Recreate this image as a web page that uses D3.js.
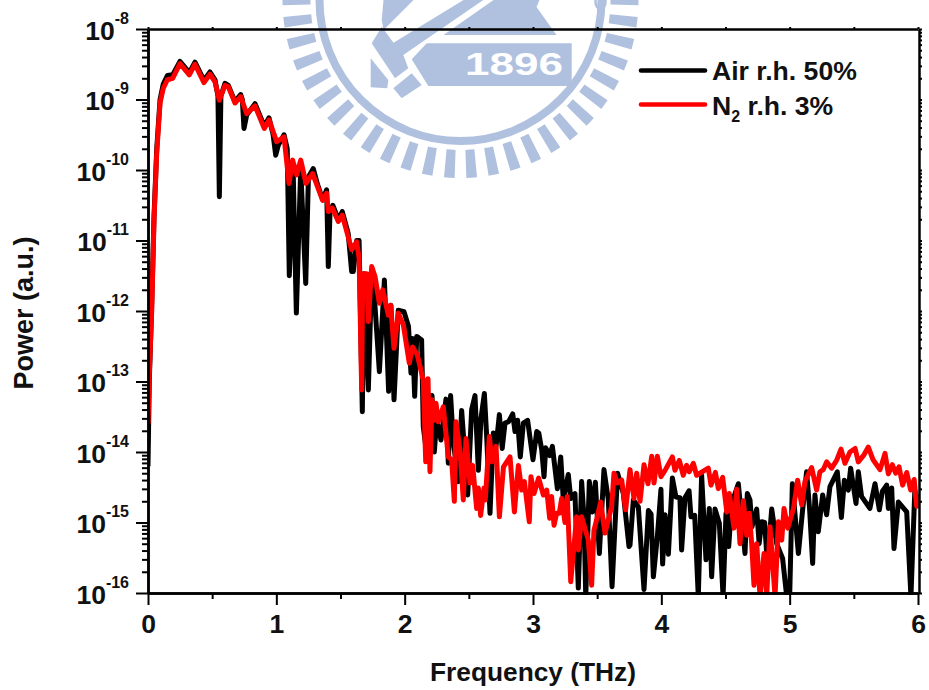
<!DOCTYPE html>
<html>
<head>
<meta charset="utf-8">
<script src="https://cdn.jsdelivr.net/npm/d3@7"></script>
<style>
  html, body { margin: 0; padding: 0; background: #fff; }
  svg { display: block; font-family: "Liberation Sans", Arial, sans-serif; font-weight: bold; fill: #111; }
</style>
</head>
<body>
<svg id="chart" width="929" height="690"></svg>
<script>
// frequency in THz, power as the exponent of ten
const airFreq = [0,.01,.029,.047,.068,.094,.119,.151,.192,.249,.322,.366,.436,.483,.522,.545,.556,.568,.6,.626,.678,.722,.735,.748,.769,.834,.906,.943,.975,.995,1.015,1.06,1.085,1.101,1.132,1.156,1.19,1.229,1.25,1.288,1.32,1.361,1.392,1.405,1.418,1.44,1.483,1.514,1.56,1.587,1.6,1.626,1.645,1.67,1.683,1.717,1.743,1.764,1.803,1.842,1.875,1.893,1.917,1.95,1.995,2.03,2.049,2.062,2.078,2.094,2.132,2.145,2.171,2.213,2.231,2.249,2.283,2.322,2.34,2.358,2.379,2.418,2.444,2.491,2.522,2.548,2.574,2.595,2.621,2.639,2.665,2.691,2.712,2.738,2.76,2.782,2.81,2.842,2.86,2.88,2.901,2.925,2.958,3.0,3.029,3.045,3.068,3.086,3.099,3.13,3.151,3.19,3.216,3.236,3.275,3.294,3.327,3.353,3.379,3.398,3.411,3.439,3.462,3.486,3.517,3.553,3.587,3.616,3.659,3.704,3.748,3.756,3.782,3.821,3.865,3.899,3.92,3.938,3.969,3.997,4.01,4.029,4.055,4.086,4.114,4.145,4.158,4.184,4.216,4.231,4.26,4.288,4.314,4.348,4.374,4.392,4.418,4.452,4.481,4.504,4.525,4.548,4.6,4.652,4.67,4.691,4.706,4.743,4.762,4.782,4.805,4.826,4.86,4.899,4.945,4.977,5.0,5.021,5.068,5.101,5.132,5.155,5.179,5.197,5.223,5.257,5.288,5.314,5.371,5.403,5.426,5.457,5.475,5.517,5.535,5.56,5.625,5.665,5.699,5.722,5.756,5.769,5.795,5.813,5.847,5.912,5.945,5.975,6];
const airPower = [-14.2,-13,-11.9,-10.65,-9.7,-9,-8.78,-8.66,-8.65,-8.46,-8.62,-8.47,-8.73,-8.61,-8.72,-8.95,-10.38,-8.95,-8.77,-8.8,-9.03,-8.93,-9,-9.41,-9.22,-9.06,-9.38,-9.26,-9.5,-9.79,-9.65,-9.5,-9.7,-11.5,-10.07,-12.03,-9.98,-11.61,-10.1,-9.98,-10.2,-10.42,-10.28,-11.37,-10.61,-10.5,-10.7,-10.59,-10.9,-11.44,-11.44,-11,-11,-13.43,-11.47,-13.12,-11.47,-11.8,-12.86,-11.56,-13.14,-11.92,-13.26,-11.99,-12.01,-12.22,-12.88,-12.39,-13.21,-12.36,-12.41,-13.64,-14.02,-13.2,-14,-13.55,-13.83,-13.25,-14.16,-13.2,-13.85,-14.42,-13.41,-14.61,-13.4,-13.2,-14.26,-13.52,-13.17,-13.78,-14.87,-13.73,-13.92,-13.47,-13.95,-13.59,-13.57,-13.46,-13.71,-13.55,-14.07,-13.59,-13.55,-14.11,-13.71,-13.73,-13.97,-14.35,-13.94,-14.05,-13.92,-14.52,-14.07,-14.68,-14.32,-14.66,-14.59,-15.93,-14.42,-14.95,-16.05,-14.42,-14.85,-14.43,-15.44,-14.25,-14.68,-15.91,-14.3,-14.59,-15.34,-15.32,-14.68,-14.78,-15.95,-14.83,-14.88,-15.77,-15.2,-14.53,-15.59,-14.89,-15.45,-14.37,-14.64,-14.65,-15.39,-14.65,-14.55,-14.92,-14.9,-16.05,-14.33,-15.53,-14.8,-15.77,-14.81,-15.01,-16.05,-14.87,-15.34,-14.73,-14.45,-15.44,-14.59,-14.68,-15.06,-14.81,-15.3,-14.99,-15,-15.58,-14.81,-15.3,-15.51,-16.05,-16.05,-14.45,-15.44,-14.82,-14.28,-14.8,-15.58,-14.61,-15.13,-14.61,-14.89,-14.49,-14.28,-14.93,-14.4,-14.54,-14.23,-14.73,-14.28,-14.63,-14.8,-14.45,-14.82,-14.56,-14.47,-14.8,-14.51,-15.37,-14.71,-14.85,-16.05,-14.55,-14.7];

const n2Freq = [0,.01,.029,.047,.068,.094,.119,.151,.192,.249,.322,.366,.436,.483,.522,.556,.6,.626,.678,.722,.769,.834,.906,.943,1.003,1.06,1.099,1.127,1.158,1.19,1.231,1.283,1.361,1.392,1.405,1.436,1.483,1.514,1.587,1.626,1.645,1.665,1.673,1.704,1.717,1.743,1.769,1.803,1.829,1.873,1.891,1.917,1.951,1.99,2.036,2.062,2.098,2.145,2.164,2.182,2.197,2.213,2.23,2.244,2.262,2.301,2.34,2.366,2.387,2.4,2.431,2.457,2.478,2.509,2.53,2.561,2.574,2.592,2.618,2.628,2.66,2.68,2.712,2.738,2.77,2.821,2.855,2.886,2.912,2.933,2.971,2.984,3.008,3.044,3.081,3.107,3.13,3.145,3.164,3.184,3.205,3.223,3.249,3.267,3.294,3.34,3.353,3.379,3.431,3.457,3.475,3.496,3.527,3.561,3.613,3.631,3.657,3.691,3.722,3.756,3.787,3.808,3.834,3.865,3.896,3.925,3.943,3.969,3.997,4.029,4.086,4.106,4.14,4.171,4.197,4.218,4.249,4.275,4.366,4.387,4.421,4.444,4.478,4.51,4.53,4.566,4.587,4.613,4.639,4.665,4.686,4.704,4.722,4.743,4.769,4.8,4.821,4.847,4.886,4.912,4.938,4.956,4.985,5.03,5.062,5.094,5.119,5.171,5.21,5.236,5.262,5.288,5.327,5.366,5.4,5.431,5.47,5.51,5.535,5.579,5.613,5.65,5.704,5.743,5.769,5.8,5.826,5.852,5.88,5.912,5.943,5.97,5.99,6];
const n2Power = [-13.6,-12.9,-11.99,-10.71,-9.76,-9.05,-8.84,-8.72,-8.7,-8.49,-8.65,-8.5,-8.76,-8.64,-8.75,-9.01,-8.8,-8.82,-9.05,-8.96,-9.2,-9.09,-9.41,-9.29,-9.6,-9.53,-10.19,-9.86,-10.07,-9.86,-10.19,-10.05,-10.43,-10.33,-10.59,-10.54,-10.73,-10.64,-11.13,-11.02,-11.25,-13.12,-11.47,-11.47,-12.15,-11.37,-11.51,-11.89,-11.7,-12.06,-11.92,-12.53,-12.03,-12.2,-12.74,-12.51,-12.62,-12.98,-14.14,-12.96,-14.28,-13.26,-13.55,-13.31,-13.57,-13.36,-14.07,-14.11,-14.7,-13.57,-13.97,-14.68,-13.81,-14.44,-14.19,-14.8,-14.51,-14.9,-14.51,-14.68,-13.78,-14.14,-13.92,-14.92,-14.21,-14.07,-14.85,-14.19,-14.54,-14.42,-14.99,-14.35,-14.59,-14.37,-14.61,-14.54,-14.94,-14.63,-15.04,-14.87,-14.87,-14.66,-15,-14.63,-15.84,-14.92,-15.39,-14.92,-15.25,-15.89,-15.11,-14.96,-14.71,-15.15,-14.77,-14.3,-14.44,-14.4,-14.82,-14.25,-14.66,-14.3,-14.7,-14.18,-14.45,-14.06,-14.44,-14.06,-14.35,-14.26,-14.07,-14.26,-14.12,-14.33,-14.19,-14.28,-14.16,-14.33,-14.23,-14.47,-14.29,-14.52,-14.36,-14.85,-14.59,-15.08,-14.53,-15.3,-14.69,-15.18,-14.87,-15.3,-15.89,-15.3,-16.05,-15.44,-16.05,-15.06,-16.05,-14.99,-15.25,-14.8,-15.08,-14.8,-14.4,-14.75,-14.42,-14.22,-14.54,-14.28,-14.25,-14.14,-14.23,-14.12,-13.96,-14.16,-14,-13.95,-14.14,-14.04,-13.93,-14.11,-14.25,-14.02,-14.31,-14.18,-14.3,-14.21,-14.47,-14.29,-14.54,-14.39,-14.77,-14.64];

const xMajor = [0, 1, 2, 3, 4, 5, 6];
const xMinor = [0.5, 1.5, 2.5, 3.5, 4.5, 5.5];
const yExponents = [-8, -9, -10, -11, -12, -13, -14, -15, -16];
const legendLabels = ["Air r.h. 50%", "N", "2", " r.h. 3%"];

const margin = { top: 29, left: 148, bottom: 593, right: 919 };
const svg = d3.select("#chart");

// background seal
const sealColor = "#b0c1df";
const seal = svg.append("g").attr("transform", "translate(460.5,0)").attr("fill", sealColor);
seal.append("circle").attr("r", 141).attr("fill", "none").attr("stroke", sealColor).attr("stroke-width", 8);
const toothArc = d3.arc().innerRadius(150).outerRadius(178);
d3.range(50).forEach(i => {
    const a = (i + 0.5) * 2 * Math.PI / 50;
    seal.append("path").attr("d", toothArc({ startAngle: a - 0.03, endAngle: a + 0.03 }));
});
const sealShapes = [
    [[-33.8,43.3],[111.2,43.3],[111.2,86],[-32.2,86],[-48.8,59.3]],
    [[-67.2,88.3],[-48.8,73.3],[-38.8,85],[-58.8,98.3]],
    [[-89.8,58.3],[-72.2,80],[-73.2,88.3],[-89.8,87.3]],
    [[-78.8,26.7],[-88.8,43.3],[-65.5,78.3],[-52.2,68.3],[-57.2,55],[22.8,0],[3,0],[-67,42.7]],
    [[-77,0],[-78.8,20],[-77,30],[-47,0]],
    [[-17,35],[96,35],[76,7],[79,0],[33,0]]
];
sealShapes.forEach(p => seal.append("polygon").attr("points", p.join(" ")));
seal.append("ellipse").attr("cx", 140).attr("cy", 2).attr("rx", 5).attr("ry", 7)
    .attr("fill", "none").attr("stroke", sealColor).attr("stroke-width", 2.5);
seal.append("text").attr("x", 4.5).attr("y", 75).attr("font-size", 31)
    .attr("textLength", 98).attr("lengthAdjust", "spacingAndGlyphs")
    .attr("fill", "#fff").text("1896");

const xScale = d3.scaleLinear().domain([0, 6]).range([margin.left, margin.right - 1]);
const yScale = d3.scaleLog().domain([1e-16, 1e-8]).range([margin.bottom, margin.top]);

// data lines
svg.append("clipPath").attr("id", "plot-clip").append("rect")
    .attr("x", margin.left).attr("y", margin.top)
    .attr("width", margin.right - margin.left).attr("height", margin.bottom - margin.top + 2);

const line = d3.line()
    .x(d => xScale(d[0]))
    .y(d => yScale(Math.pow(10, d[1])));

const lines = svg.append("g").attr("clip-path", "url(#plot-clip)")
    .attr("fill", "none").attr("stroke-linejoin", "round").attr("stroke-width", 5);
lines.append("path").attr("stroke", "#000").attr("d", line(d3.zip(airFreq, airPower)));
lines.append("path").attr("stroke", "#f00").attr("d", line(d3.zip(n2Freq, n2Power)));

// axes
function yMinorValues() {
    const vals = [];
    yExponents.slice(1).forEach(e => {
        d3.range(2, 10).forEach(m => vals.push(m * Math.pow(10, e)));
    });
    return vals;
}

function styleAxis(g, width) {
    g.selectAll("path.domain").attr("stroke", "#000").attr("stroke-width", width);
    g.selectAll("line").attr("stroke", "#000").attr("stroke-width", width - 0.5);
    g.attr("font-family", null).attr("font-size", null);
}

// right and top carry only very short ticks
const rightAxis = svg.append("g").attr("transform", `translate(${margin.right},0)`)
    .call(d3.axisRight(yScale).tickValues(yMinorValues().concat(yExponents.map(e => Math.pow(10, e)))).tickSize(3).tickSizeOuter(0).tickFormat(""));
styleAxis(rightAxis, 2.5);
const topAxis = svg.append("g").attr("transform", `translate(0,${margin.top})`)
    .call(d3.axisTop(xScale).tickValues(xMajor.concat(xMinor)).tickSize(2).tickSizeOuter(0).tickFormat(""));
styleAxis(topAxis, 2.5);

const leftMinor = svg.append("g").attr("transform", `translate(${margin.left},0)`)
    .call(d3.axisLeft(yScale).tickValues(yMinorValues()).tickSize(6).tickSizeOuter(0).tickFormat(""));
styleAxis(leftMinor, 2.5);

const leftAxis = svg.append("g").attr("transform", `translate(${margin.left},0)`)
    .call(d3.axisLeft(yScale).tickValues(yExponents.map(e => Math.pow(10, e))).tickSize(12).tickSizeOuter(0).tickFormat(""));
styleAxis(leftAxis, 2.5);
leftAxis.selectAll(".tick text").each(function(d) {
    const el = d3.select(this).attr("x", -19).attr("dy", null).attr("y", 10)
        .attr("text-anchor", "end").attr("fill", "#111");
    el.append("tspan").attr("font-size", 26.5).text("10");
    el.append("tspan").attr("font-size", 16).attr("dy", -16).text(Math.round(Math.log10(d)));
});

const bottomMinor = svg.append("g").attr("transform", `translate(0,${margin.bottom})`)
    .call(d3.axisBottom(xScale).tickValues(xMinor).tickSize(6).tickSizeOuter(0).tickFormat(""));
styleAxis(bottomMinor, 2.5);

const bottomAxis = svg.append("g").attr("transform", `translate(0,${margin.bottom})`)
    .call(d3.axisBottom(xScale).tickValues(xMajor).tickSize(12).tickSizeOuter(0).tickFormat(d => d));
styleAxis(bottomAxis, 2.5);
bottomAxis.selectAll(".tick text").attr("y", 40).attr("dy", null)
    .attr("font-size", 26.5).attr("fill", "#111");

// axis titles
svg.append("text").attr("x", 533).attr("y", 681).attr("text-anchor", "middle")
    .attr("font-size", 26.3).text("Frequency (THz)");
svg.append("text").attr("transform", "translate(33,313) rotate(-90)").attr("text-anchor", "middle")
    .attr("font-size", 27).text("Power (a.u.)");

// legend
svg.append("line").attr("x1", 641).attr("x2", 705).attr("y1", 70.5).attr("y2", 70.5)
    .attr("stroke", "#000").attr("stroke-width", 4.6).attr("stroke-linecap", "round");
svg.append("line").attr("x1", 641).attr("x2", 705).attr("y1", 104.5).attr("y2", 104.5)
    .attr("stroke", "#f00").attr("stroke-width", 4.6).attr("stroke-linecap", "round");
svg.append("text").attr("x", 712).attr("y", 80).attr("font-size", 26.6).text(legendLabels[0]);
const n2Label = svg.append("text").attr("x", 712).attr("y", 115).attr("font-size", 26.6).attr("xml:space", "preserve");
n2Label.append("tspan").text(legendLabels[1]);
n2Label.append("tspan").attr("font-size", 16).attr("dy", 7).text(legendLabels[2]);
n2Label.append("tspan").attr("dy", -7).text(legendLabels[3]);
</script>
</body>
</html>
